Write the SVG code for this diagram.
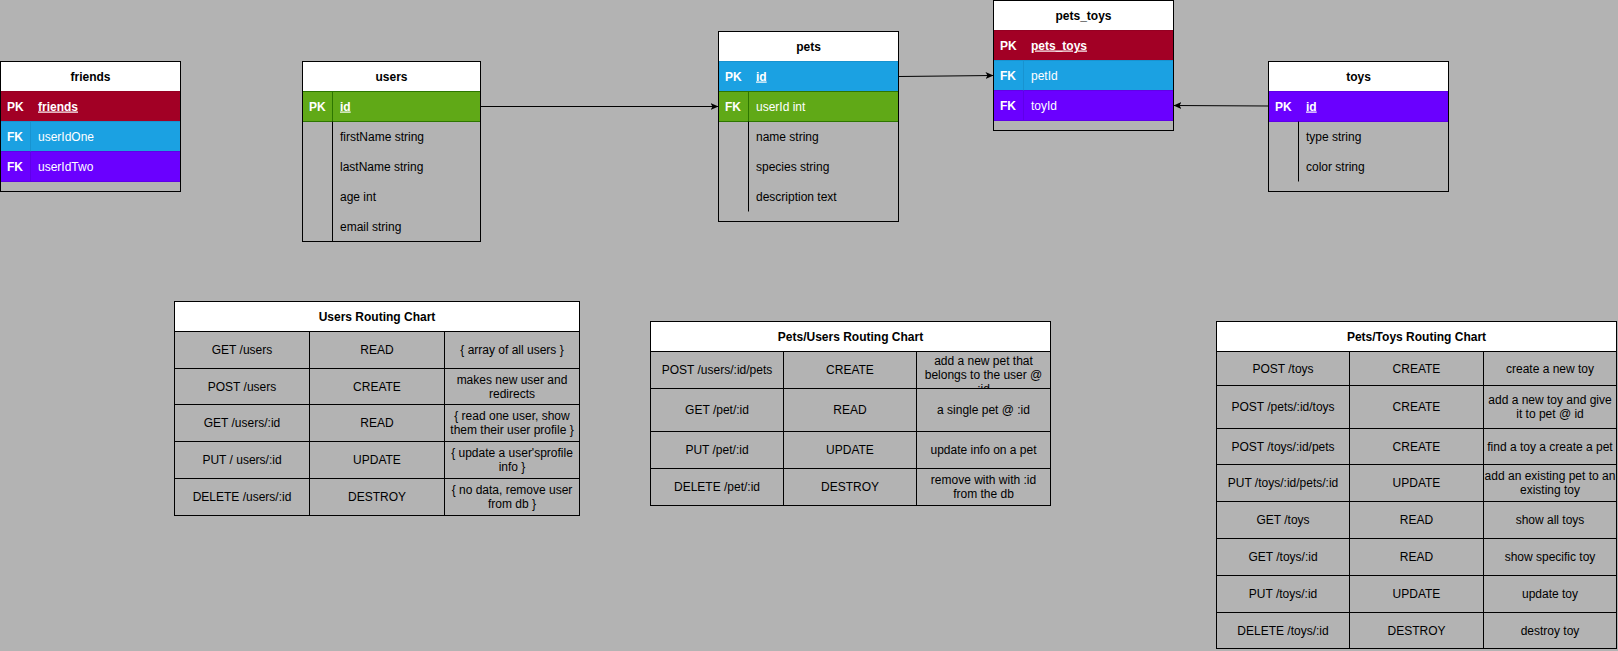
<svg xmlns="http://www.w3.org/2000/svg" width="1618" height="651" viewBox="0 0 1618 651">
<style>
text{font-family:"Liberation Sans",Arial,Helvetica,sans-serif;font-size:12px;fill:#000}
.b{font-weight:bold}
.w{fill:#fff}
.m{text-anchor:middle}
.u{text-decoration:underline}
.ol{fill:none;stroke:#000;stroke-width:1}
.hd{fill:#fff;stroke:none}
.car{fill:#a20025;stroke:#950022}
.blu{fill:#1ba1e2;stroke:#1893d0}
.pur{fill:#6a00ff;stroke:#5f00e8}
.grn{fill:#60a917;stroke:#2d7600}
.dv{stroke:#000;stroke-width:1}
.cl{stroke:#000;stroke-width:1;fill:none}
.cn{stroke:#000;stroke-width:1;fill:none;marker-end:url(#arr)}
</style>
<defs>
<marker id="arr" markerUnits="userSpaceOnUse" markerWidth="10" markerHeight="10" refX="8" refY="3.5" orient="auto">
<path d="M0,0 L8,3.5 L0,7 L2,3.5 Z" fill="#000"/>
</marker>
<clipPath id="clipPU1"><rect x="917" y="352" width="133" height="36"/></clipPath>
</defs>
<rect width="1618" height="651" fill="#b3b3b3"/>

<g id="friends">
<rect class="hd" x="0.5" y="61.5" width="180" height="30"/>
<text class="b m" x="90.5" y="80.5">friends</text>
<rect class="car" x="0.5" y="91.5" width="180" height="30"/>
<rect class="blu" x="0.5" y="121.5" width="180" height="30"/>
<rect class="pur" x="0.5" y="151.5" width="180" height="30"/>
<line x1="30.5" y1="121.5" x2="30.5" y2="151.5" stroke="#1893d0"/>
<line x1="30.5" y1="151.5" x2="30.5" y2="181.5" stroke="#5f00e8"/>
<text class="b w" x="7" y="110.5">PK</text><text class="b w u" x="38" y="110.5">friends</text>
<text class="b w" x="7" y="140.5">FK</text><text class="w" x="38" y="140.5">userIdOne</text>
<text class="b w" x="7" y="170.5">FK</text><text class="w" x="38" y="170.5">userIdTwo</text>
<rect class="ol" x="0.5" y="61.5" width="180" height="130"/>
</g>

<g id="users">
<rect class="hd" x="302.5" y="61.5" width="178" height="30"/>
<text class="b m" x="391.5" y="80.5">users</text>
<rect class="grn" x="302.5" y="91.5" width="178" height="30"/>
<line x1="332.5" y1="91.5" x2="332.5" y2="121.5" stroke="#2d7600"/>
<line class="dv" x1="332.5" y1="121.5" x2="332.5" y2="241.5"/>
<text class="b w" x="309" y="110.5">PK</text><text class="b w u" x="340" y="110.5">id</text>
<text x="340" y="140.5">firstName string</text>
<text x="340" y="170.5">lastName string</text>
<text x="340" y="200.5">age int</text>
<text x="340" y="230.5">email string</text>
<rect class="ol" x="302.5" y="61.5" width="178" height="180"/>
</g>

<g id="pets">
<rect class="hd" x="718.5" y="31.5" width="180" height="30"/>
<text class="b m" x="808.5" y="50.5">pets</text>
<rect class="blu" x="718.5" y="61.5" width="180" height="30"/>
<rect class="grn" x="718.5" y="91.5" width="180" height="30"/>
<line x1="748.5" y1="91.5" x2="748.5" y2="121.5" stroke="#2d7600"/>
<line class="dv" x1="748.5" y1="121.5" x2="748.5" y2="211.5"/>
<text class="b w" x="725" y="80.5">PK</text><text class="b w u" x="756" y="80.5">id</text>
<text class="b w" x="725" y="110.5">FK</text><text class="w" x="756" y="110.5">userId int</text>
<text x="756" y="140.5">name string</text>
<text x="756" y="170.5">species string</text>
<text x="756" y="200.5">description text</text>
<rect class="ol" x="718.5" y="31.5" width="180" height="190"/>
</g>

<g id="pets_toys">
<rect class="hd" x="993.5" y="0.5" width="180" height="30"/>
<text class="b m" x="1083.5" y="19.5">pets_toys</text>
<rect class="car" x="993.5" y="30.5" width="180" height="30"/>
<rect class="blu" x="993.5" y="60.5" width="180" height="30"/>
<rect class="pur" x="993.5" y="90.5" width="180" height="30"/>
<line x1="1023.5" y1="60.5" x2="1023.5" y2="90.5" stroke="#1893d0"/>
<line x1="1023.5" y1="90.5" x2="1023.5" y2="120.5" stroke="#5f00e8"/>
<text class="b w" x="1000" y="49.5">PK</text><text class="b w u" x="1031" y="49.5">pets_toys</text>
<text class="b w" x="1000" y="79.5">FK</text><text class="w" x="1031" y="79.5">petId</text>
<text class="b w" x="1000" y="109.5">FK</text><text class="w" x="1031" y="109.5">toyId</text>
<rect class="ol" x="993.5" y="0.5" width="180" height="130"/>
</g>

<g id="toys">
<rect class="hd" x="1268.5" y="61.5" width="180" height="30"/>
<text class="b m" x="1358.5" y="80.5">toys</text>
<rect class="pur" x="1268.5" y="91.5" width="180" height="30"/>
<line class="dv" x1="1298.5" y1="121.5" x2="1298.5" y2="181.5"/>
<text class="b w" x="1275" y="110.5">PK</text><text class="b w u" x="1306" y="110.5">id</text>
<text x="1306" y="140.5">type string</text>
<text x="1306" y="170.5">color string</text>
<rect class="ol" x="1268.5" y="61.5" width="180" height="130"/>
</g>

<g id="connectors">
<line class="cn" x1="480.5" y1="106.5" x2="718.5" y2="106.5"/>
<line class="cn" x1="898.5" y1="76.5" x2="993.5" y2="75.5"/>
<line class="cn" x1="1268.5" y1="106" x2="1173.5" y2="105.5"/>
</g>

<g id="users_routing_chart">
<rect class="hd" x="174.5" y="301.5" width="405" height="30"/>
<text class="b m" x="377" y="320.5">Users Routing Chart</text>
<path class="cl" d="M174.5,331.5H579.5M174.5,368.5H579.5M174.5,404.5H579.5M174.5,441.5H579.5M174.5,478.5H579.5M309.5,331.5V515.5M444.5,331.5V515.5"/>
<rect class="ol" x="174.5" y="301.5" width="405" height="214"/>
<text class="m" x="242" y="354">GET /users</text><text class="m" x="377" y="354">READ</text><text class="m" x="512" y="354">{ array of all users }</text>
<text class="m" x="242" y="390.5">POST /users</text><text class="m" x="377" y="390.5">CREATE</text><text class="m" x="512" y="383.5">makes new user and</text><text class="m" x="512" y="397.5">redirects</text>
<text class="m" x="242" y="427">GET /users/:id</text><text class="m" x="377" y="427">READ</text><text class="m" x="512" y="420">{ read one user, show</text><text class="m" x="512" y="434">them their user profile }</text>
<text class="m" x="242" y="464">PUT / users/:id</text><text class="m" x="377" y="464">UPDATE</text><text class="m" x="512" y="457">{ update a user'sprofile</text><text class="m" x="512" y="471">info }</text>
<text class="m" x="242" y="501">DELETE /users/:id</text><text class="m" x="377" y="501">DESTROY</text><text class="m" x="512" y="494">{ no data, remove user</text><text class="m" x="512" y="508">from db }</text>
</g>

<g id="pets_users_routing_chart">
<rect class="hd" x="650.5" y="321.5" width="400" height="30"/>
<text class="b m" x="850.5" y="340.5">Pets/Users Routing Chart</text>
<path class="cl" d="M650.5,351.5H1050.5M650.5,388.5H1050.5M650.5,431.5H1050.5M650.5,468.5H1050.5M783.5,351.5V505.5M916.5,351.5V505.5"/>
<rect class="ol" x="650.5" y="321.5" width="400" height="184"/>
<text class="m" x="717" y="374">POST /users/:id/pets</text><text class="m" x="850" y="374">CREATE</text>
<g clip-path="url(#clipPU1)"><text class="m" x="983.5" y="365">add a new pet that</text><text class="m" x="983.5" y="379">belongs to the user @</text><text class="m" x="983.5" y="393">:id</text></g>
<text class="m" x="717" y="414">GET /pet/:id</text><text class="m" x="850" y="414">READ</text><text class="m" x="983.5" y="414">a single pet @ :id</text>
<text class="m" x="717" y="454">PUT /pet/:id</text><text class="m" x="850" y="454">UPDATE</text><text class="m" x="983.5" y="454">update info on a pet</text>
<text class="m" x="717" y="491">DELETE /pet/:id</text><text class="m" x="850" y="491">DESTROY</text><text class="m" x="983.5" y="484">remove with with :id</text><text class="m" x="983.5" y="498">from the db</text>
</g>

<g id="pets_toys_routing_chart">
<rect class="hd" x="1216.5" y="321.5" width="400" height="30"/>
<text class="b m" x="1416.5" y="340.5">Pets/Toys Routing Chart</text>
<path class="cl" d="M1216.5,351.5H1616.5M1216.5,385.5H1616.5M1216.5,428.5H1616.5M1216.5,464.5H1616.5M1216.5,501.5H1616.5M1216.5,538.5H1616.5M1216.5,575.5H1616.5M1216.5,612.5H1616.5M1349.5,351.5V648.5M1483.5,351.5V648.5"/>
<rect class="ol" x="1216.5" y="321.5" width="400" height="327"/>
<text class="m" x="1283" y="372.5">POST /toys</text><text class="m" x="1416.5" y="372.5">CREATE</text><text class="m" x="1550" y="372.5">create a new toy</text>
<text class="m" x="1283" y="411">POST /pets/:id/toys</text><text class="m" x="1416.5" y="411">CREATE</text><text class="m" x="1550" y="404">add a new toy and give</text><text class="m" x="1550" y="418">it to pet @ id</text>
<text class="m" x="1283" y="450.5">POST /toys/:id/pets</text><text class="m" x="1416.5" y="450.5">CREATE</text><text class="m" x="1550" y="450.5">find a toy a create a pet</text>
<text class="m" x="1283" y="487">PUT /toys/:id/pets/:id</text><text class="m" x="1416.5" y="487">UPDATE</text><text class="m" x="1550" y="480">add an existing pet to an</text><text class="m" x="1550" y="494">existing toy</text>
<text class="m" x="1283" y="524">GET /toys</text><text class="m" x="1416.5" y="524">READ</text><text class="m" x="1550" y="524">show all toys</text>
<text class="m" x="1283" y="561">GET /toys/:id</text><text class="m" x="1416.5" y="561">READ</text><text class="m" x="1550" y="561">show specific toy</text>
<text class="m" x="1283" y="598">PUT /toys/:id</text><text class="m" x="1416.5" y="598">UPDATE</text><text class="m" x="1550" y="598">update toy</text>
<text class="m" x="1283" y="634.5">DELETE /toys/:id</text><text class="m" x="1416.5" y="634.5">DESTROY</text><text class="m" x="1550" y="634.5">destroy toy</text>
</g>
</svg>
